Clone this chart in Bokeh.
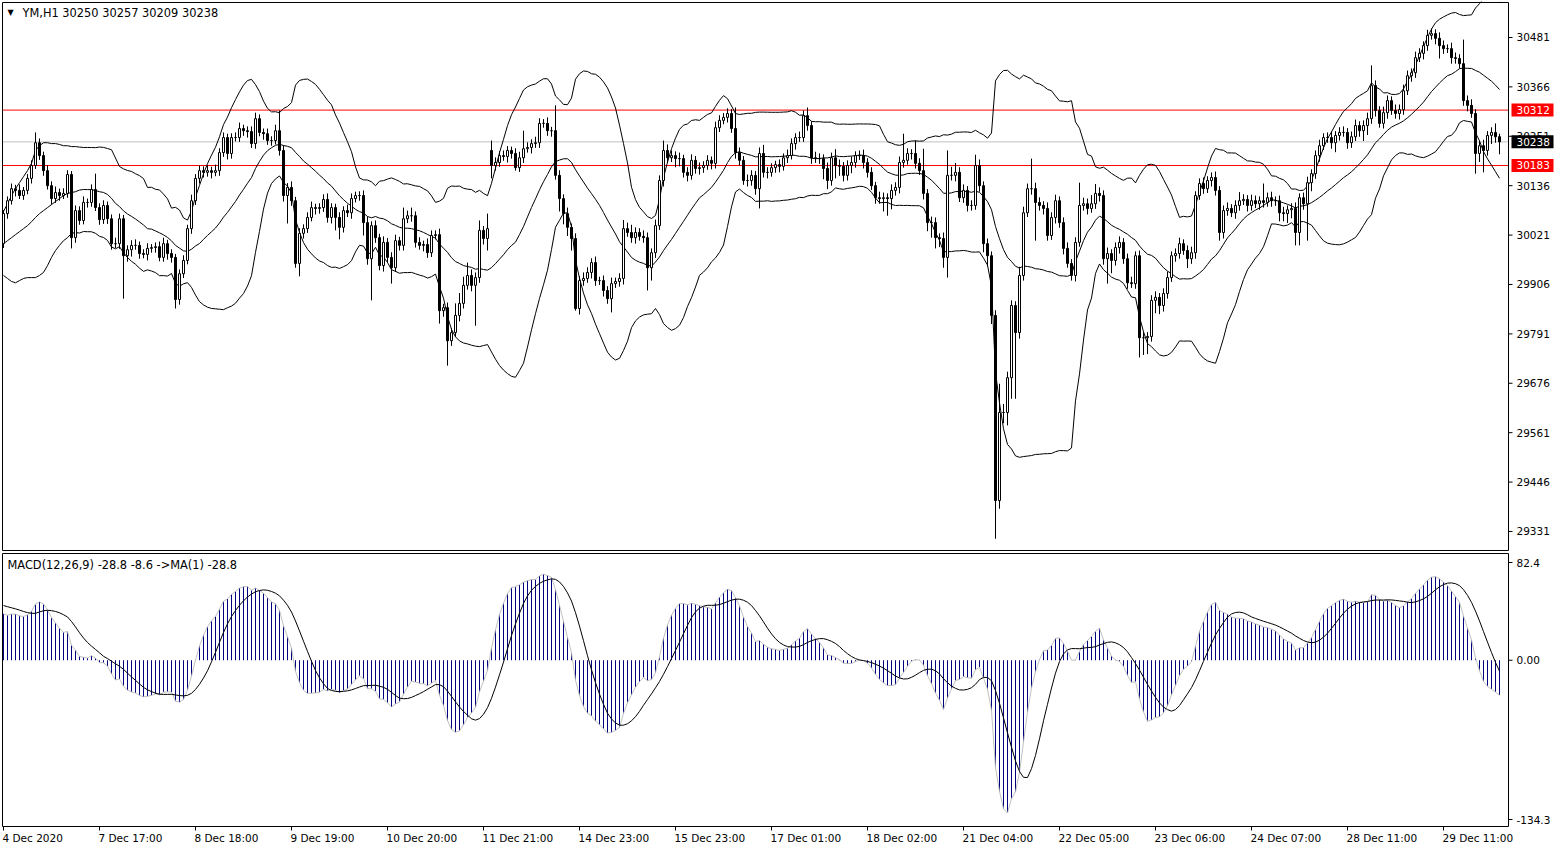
import numpy as np
import pandas as pd
from bokeh.plotting import figure
from bokeh.layouts import column
from bokeh.models import Range1d
from bokeh.core.properties import value
from bokeh.embed import file_html
from bokeh.resources import INLINE

# ---------------- data (YM, H1) ----------------
closes = [
 30071,30101,30129,30125,30113,30125,30153,30183,30236,30206,30171,30136,30106,30120,30113,30118,30162,30015,30078,30055,30097,30097,30127,30085,30057,
 30090,30059,30001,30001,30059,29973,29987,29997,29997,29978,29976,29990,29992,29994,29969,30001,29978,29969,29871,29931,29962,30036,30101,30153,30171,
 30167,30171,30167,30171,30213,30248,30211,30248,30248,30269,30264,30262,30234,30292,30260,30257,30241,30241,30264,30218,30113,30132,30101,29955,30025,
 30036,30062,30085,30083,30085,30104,30062,30085,30062,30039,30078,30073,30106,30113,30113,30050,29966,30043,30015,29950,30004,29969,29945,30008,29997,
 30059,30066,30066,30004,29997,29999,29980,30020,30022,29845,29852,29775,29794,29834,29862,29904,29927,29904,29922,30032,30013,30036,30183,30190,30206,
 30204,30218,30211,30178,30201,30222,30225,30234,30236,30281,30281,30264,30264,30160,30106,30071,30039,30013,29850,29915,29920,29934,29957,29915,29915,
 29892,29873,29908,29913,29920,30036,30027,30015,30027,30018,30015,29945,29980,30043,30148,30218,30201,30206,30199,30199,30167,30160,30195,30176,30178,
 30183,30195,30188,30271,30288,30295,30304,30269,30213,30195,30148,30148,30160,30129,30211,30167,30167,30178,30185,30181,30201,30206,30234,30248,30248,
 30299,30276,30201,30199,30199,30176,30148,30201,30183,30181,30160,30183,30190,30206,30206,30190,30167,30136,30108,30106,30108,30106,30125,30132,30190,
 30195,30211,30211,30188,30171,30118,30050,30050,30015,30013,29969,30160,30160,30167,30108,30125,30090,30090,30183,30136,30001,29973,29834,29403,29608,
 29608,29689,29857,29794,29927,30073,30129,30129,30097,30090,30083,30020,30062,30101,30050,29990,29955,29927,30004,30090,30094,30083,30094,30118,30113,
 29966,29978,29962,29992,30004,29966,29910,29908,29973,29782,29782,29785,29869,29876,29857,29885,29922,29973,29978,30001,29985,29966,29980,30113,30141,
 30129,30148,30155,30125,30027,30078,30083,30073,30090,30101,30104,30090,30101,30094,30101,30097,30108,30101,30101,30073,30071,30080,30083,30027,30108,
 30094,30143,30164,30206,30229,30248,30248,30236,30253,30260,30260,30236,30250,30276,30264,30276,30292,30369,30311,30281,30306,30334,30311,30304,30313,
 30357,30392,30399,30434,30444,30462,30486,30490,30479,30462,30455,30455,30434,30432,30420,30334,30323,30304,30211,30229,30218,30253,30260,30250,30238,
]
first_open = 30001
open_gaps = {122: 30218}

wick_up = [
 8,10,12,9,14,8,10,12,24,10,9,12,10,14,9,12,10,8,12,10,14,9,12,37,10,
 12,9,10,14,12,9,10,12,14,9,10,12,8,10,12,14,9,10,8,10,12,9,14,10,12,
 10,12,9,14,10,12,9,10,12,14,9,10,12,14,10,9,12,10,14,47,12,10,14,9,12,
 10,12,14,9,10,12,14,10,9,12,10,14,12,9,10,12,14,10,12,9,14,10,12,14,9,
 26,12,19,10,12,9,14,12,10,14,9,12,10,28,24,20,30,14,12,23,10,35,23,12,10,
 12,10,9,12,14,42,12,10,14,12,10,14,9,59,12,10,14,9,12,10,14,12,10,14,9,
 12,10,14,9,12,20,14,18,12,10,14,12,10,14,12,23,14,12,10,14,9,12,14,10,12,
 10,12,9,14,12,10,12,10,49,12,10,14,12,10,14,20,12,10,9,12,10,14,12,10,14,
 12,19,10,14,12,10,14,12,20,14,10,12,14,10,12,14,10,12,9,14,12,10,14,12,14,
 62,12,10,30,12,51,10,14,12,10,14,58,20,22,12,14,10,12,25,14,10,12,10,12,67,
 20,14,12,10,20,14,12,70,14,12,10,14,12,14,10,12,14,10,12,53,14,12,20,22,14,
 12,14,10,12,14,10,12,14,10,12,14,10,12,14,10,12,14,10,12,14,10,12,14,10,12,
 14,10,12,14,10,12,14,10,12,20,12,10,14,12,10,40,12,14,10,12,14,10,12,14,10,
 12,14,10,12,14,10,12,14,10,12,14,10,12,14,10,12,14,47,12,10,14,12,10,14,12,
 14,12,10,14,12,10,13,12,10,14,12,10,14,12,10,56,12,14,10,12,14,10,12,21,7,
]
wick_dn = [
 10,12,9,14,8,10,9,12,8,10,12,9,14,10,12,8,10,25,12,10,9,12,10,8,12,
 10,12,14,10,12,100,14,16,10,12,9,14,10,12,9,10,14,12,21,12,10,9,12,10,12,
 12,10,14,9,12,10,14,12,9,10,12,14,10,12,9,14,10,12,9,12,14,65,12,10,30,
 12,10,9,14,12,10,12,14,30,28,12,10,14,9,12,30,14,97,12,11,14,12,37,10,12,
 12,10,14,12,10,14,12,10,9,30,14,58,12,10,14,12,10,14,94,12,14,28,30,12,10,
 10,14,12,7,10,12,9,14,10,12,10,12,14,10,30,25,20,28,5,14,12,10,14,12,10,
 14,12,32,10,12,14,10,12,14,10,12,53,30,12,10,14,12,10,20,18,12,14,10,12,14,
 12,10,14,12,10,9,12,10,14,12,10,14,12,14,46,12,14,10,12,14,10,12,9,14,10,
 10,12,14,10,12,25,20,12,30,22,14,12,18,12,10,14,12,10,14,12,30,40,25,12,14,
 12,10,14,12,10,14,20,35,25,20,24,47,12,14,10,12,14,12,10,14,20,25,20,89,19,
 25,30,49,154,14,12,10,14,89,12,14,12,10,14,12,14,10,12,14,10,12,14,10,12,14,
 14,58,30,12,14,12,14,10,12,46,40,38,12,30,20,14,12,10,14,12,10,22,12,14,10,
 12,10,14,12,19,14,12,10,14,12,10,14,12,10,14,12,10,14,12,20,18,22,20,30,30,
 14,86,20,12,14,10,12,14,22,12,10,14,12,10,14,24,22,12,14,10,12,14,10,12,14,
 12,10,14,12,10,14,12,10,14,30,12,10,14,12,11,12,14,10,47,20,51,12,20,14,29,
]

# Bollinger band values for the first 19 bars (their window reaches before the chart)
bb_upper_head = [30076,30094,30113,30129,30143,30157,30171,30188,30218,30229,30236,30236,30234,30234,30232,30229,30229,30227,30227]
bb_mid_head = [30001,30008,30015,30022,30029,30036,30043,30052,30062,30071,30078,30085,30092,30099,30106,30113,30118,30120,30122]
bb_lower_head = [29927,29920,29913,29910,29915,29920,29922,29922,29922,29927,29934,29950,29969,29985,29997,30008,30015,30025,30027]

ema12_seed = 30080.0
ema26_seed = 30037.0
signal_seed = 47.0

price_ticks = [30481, 30366, 30251, 30136, 30021, 29906, 29791, 29676, 29561, 29446, 29331]
date_labels = ["4 Dec 2020", "7 Dec 17:00", "8 Dec 18:00", "9 Dec 19:00", "10 Dec 20:00",
               "11 Dec 21:00", "14 Dec 23:00", "15 Dec 23:00", "17 Dec 01:00", "18 Dec 02:00",
               "21 Dec 04:00", "22 Dec 05:00", "23 Dec 06:00", "24 Dec 07:00", "28 Dec 11:00",
               "29 Dec 11:00"]
bars_per_label = 24
macd_ticks = [82.4, 0.0, -134.3]
macd_tick_text = ["82.4", "0.00", "-134.3"]
level_red = [30312, 30183]
level_last = 30238
header = "YM,H1  30250 30257 30209 30238"
macd_header = "MACD(12,26,9) -28.8 -8.6  ->MA(1) -28.8"

# ---------------- derived ----------------
n = len(closes)
x = np.arange(n)
c = np.array(closes, dtype=float)
o = np.empty(n)
o[0] = first_open
o[1:] = c[:-1]
for k, v in open_gaps.items():
    o[k] = v
hi = np.maximum(o, c) + np.array(wick_up, dtype=float)
lo = np.minimum(o, c) - np.array(wick_dn, dtype=float)

s = pd.Series(c)
mid = s.rolling(20).mean().to_numpy()
sd = s.rolling(20).std(ddof=0).to_numpy()
upper = mid + 2 * sd
lower = mid - 2 * sd
hh = len(bb_mid_head)
upper[:hh] = bb_upper_head
mid[:hh] = bb_mid_head
lower[:hh] = bb_lower_head

e12, e26 = ema12_seed, ema26_seed
macd = np.empty(n)
for i in range(n):
    e12 += (2 / 13) * (c[i] - e12)
    e26 += (2 / 27) * (c[i] - e26)
    macd[i] = e12 - e26
ext = np.concatenate([np.full(8, signal_seed), macd])
signal = pd.Series(ext).rolling(9).mean().to_numpy()[8:]

# ---------------- layout helpers (pixel geometry only) ----------------
FONT = value("DejaVu Sans")
FS = value("10.5px")
HFS = value("11.4px")
BAR_PX = 4.0
FRAME_W = 1563
X0 = -0.5                        # bar units at the left frame edge
X1 = X0 + FRAME_W / BAR_PX


def bx(sx):                      # screen x -> bar units
    return X0 + (sx - 1) / BAR_PX


# main panel: frame from screen y 1 to 552
MAIN_TOP_SY, MAIN_H = 1, 551
PPX = 2.328                      # price per pixel
P_TOP = 30567.1 - PPX * MAIN_TOP_SY
P_BOT = P_TOP - PPX * MAIN_H


def py(sy):
    return P_TOP - (sy - MAIN_TOP_SY) * PPX


# macd panel: frame from screen y 552 to 848
M_TOP_SY, M_H = 552, 296
MPX = (82.4 + 134.3) / (818 - 561)


def my(sy):
    return 82.4 - (sy - 562) * MPX


M_TOP = my(M_TOP_SY)
M_BOT = my(M_TOP_SY + M_H)

BOX_L, BOX_R = bx(2), bx(1508)
TICK_R = bx(1512)
LAB_X = bx(1516)
TAG_L, TAG_R = bx(1511), bx(1553)


def base_fig(h, yr, top_border):
    f = figure(frame_width=FRAME_W, frame_height=h, x_range=Range1d(X0, X1), y_range=yr,
               output_backend="svg", toolbar_location=None,
               x_axis_location=None, y_axis_location=None,
               min_border_left=1, min_border_right=0, min_border_top=top_border, min_border_bottom=0)
    f.grid.visible = False
    f.outline_line_color = None
    f.background_fill_color = "white"
    f.border_fill_color = "white"
    return f


# ---------------- main chart ----------------
p = base_fig(MAIN_H, Range1d(P_BOT, P_TOP), MAIN_TOP_SY)

for lv in level_red:
    p.segment(x0=BOX_L, y0=lv, x1=BOX_R, y1=lv, line_color="red", line_width=1)
p.segment(x0=BOX_L, y0=level_last, x1=BOX_R, y1=level_last, line_color="#c0c0c0", line_width=1)

p.line(x, upper, line_color="black", line_width=1)
p.line(x, mid, line_color="black", line_width=1)
p.line(x, lower, line_color="black", line_width=1)

p.segment(x0=x, y0=lo, x1=x, y1=hi, line_color="black", line_width=1)
up = c >= o
p.vbar(x=x[up], width=0.5, top=c[up], bottom=o[up], fill_color="white", line_color="black", line_width=1)
dn = ~up
p.vbar(x=x[dn], width=0.5, top=o[dn], bottom=c[dn], fill_color="black", line_color="black", line_width=1)

# panel box, right price scale
p.quad(left=BOX_L, right=BOX_R, top=py(2), bottom=py(550), fill_color=None, line_color="black", line_width=1)
p.segment(x0=[BOX_R] * len(price_ticks), y0=price_ticks, x1=[TICK_R] * len(price_ticks), y1=price_ticks,
          line_color="black", line_width=1)
p.text(x=[LAB_X] * len(price_ticks), y=price_ticks, text=[str(t) for t in price_ticks],
       text_font=FONT, text_font_size=FS, text_color="black", text_baseline="middle", text_align="left")

tag_h = 13 * PPX
tags = level_red + [level_last]
tag_colors = ["red", "red", "black"]
p.quad(left=[TAG_L] * 3, right=[TAG_R] * 3, top=[t + tag_h / 2 for t in tags],
       bottom=[t - tag_h / 2 for t in tags], fill_color=tag_colors, line_color=None)
p.text(x=[LAB_X] * 3, y=tags, text=[str(t) for t in tags], text_font=FONT, text_font_size=FS,
       text_color="white", text_baseline="middle", text_align="left")

p.text(x=[bx(10)], y=[py(12)], text=["\u25bc"], text_font=FONT, text_font_size=value("8px"),
       text_color="black", text_baseline="middle", text_align="center")
p.text(x=[bx(22)], y=[py(12)], text=[header], text_font=FONT, text_font_size=HFS,
       text_color="black", text_baseline="middle", text_align="left")

# ---------------- MACD ----------------
m = base_fig(M_H, Range1d(M_BOT, M_TOP), 0)

m.segment(x0=x, y0=np.zeros(n), x1=x, y1=macd, line_color="#000080", line_width=1)
m.line(x, macd, line_color="#c0c0c0", line_width=1)
m.line(x, signal, line_color="black", line_width=1)

m.quad(left=BOX_L, right=BOX_R, top=my(553), bottom=my(826), fill_color=None, line_color="black", line_width=1)
m.segment(x0=[BOX_R] * 3, y0=macd_ticks, x1=[TICK_R] * 3, y1=macd_ticks, line_color="black", line_width=1)
m.text(x=[LAB_X] * 3, y=macd_ticks, text=macd_tick_text, text_font=FONT, text_font_size=FS,
       text_color="black", text_baseline="middle", text_align="left")
m.text(x=[bx(7)], y=[my(564)], text=[macd_header], text_font=FONT, text_font_size=HFS,
       text_color="black", text_baseline="middle", text_align="left")

tick_pos = [bars_per_label * k for k in range(len(date_labels))]
m.segment(x0=tick_pos, y0=[my(826)] * len(tick_pos), x1=tick_pos, y1=[my(830)] * len(tick_pos),
          line_color="black", line_width=1)
m.text(x=[t - 0.25 for t in tick_pos], y=[my(837)] * len(tick_pos), text=date_labels,
       text_font=FONT, text_font_size=FS, text_color="black", text_baseline="middle", text_align="left")

layout = column(p, m, spacing=0)
open("out.html", "w").write(file_html(layout, INLINE))
